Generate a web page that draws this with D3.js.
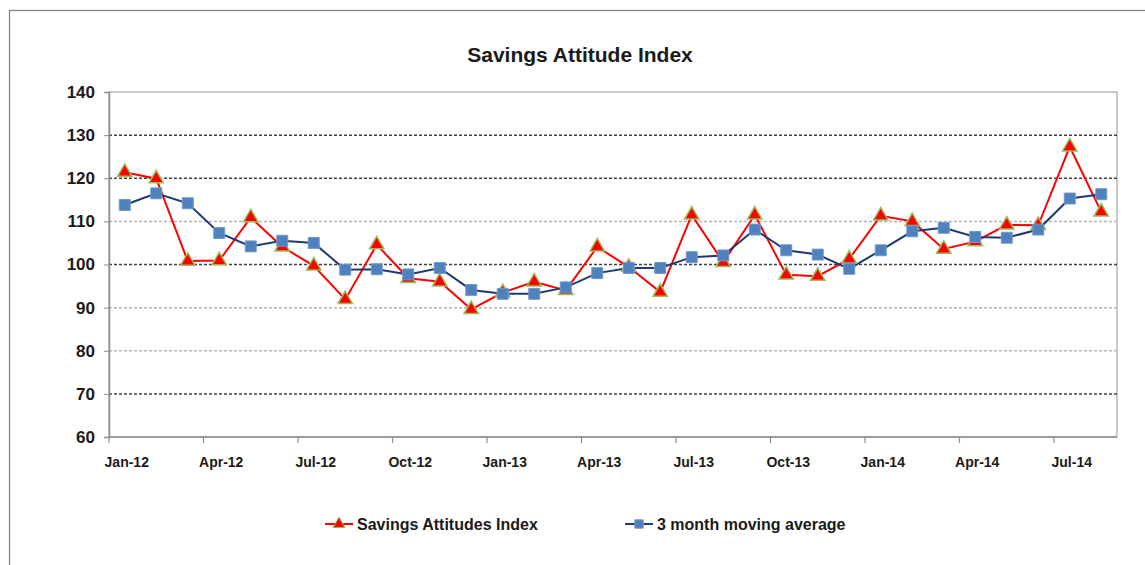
<!DOCTYPE html>
<html>
<head>
<meta charset="utf-8">
<script src="https://cdn.jsdelivr.net/npm/d3@7/dist/d3.min.js"></script>
<style>
  body { margin: 0; background: #fff; }
  svg { display: block; font-family: "Liberation Sans Narrow", "Liberation Sans", Arial, sans-serif; font-weight: bold; }
</style>
</head>
<body>
<svg id="chart" width="1145" height="565"></svg>
<script>
const months = [
  "Jan-12", "Feb-12", "Mar-12", "Apr-12", "May-12", "Jun-12", "Jul-12", "Aug-12", "Sep-12", "Oct-12", "Nov-12", "Dec-12",
  "Jan-13", "Feb-13", "Mar-13", "Apr-13", "May-13", "Jun-13", "Jul-13", "Aug-13", "Sep-13", "Oct-13", "Nov-13", "Dec-13",
  "Jan-14", "Feb-14", "Mar-14", "Apr-14", "May-14", "Jun-14", "Jul-14", "Aug-14"
];

const indexValues = [
  121.4, 119.9, 100.8, 100.9, 110.9, 104.1, 99.7, 91.9, 104.6, 96.8, 96.0,
  89.6, 93.5, 96.0, 94.0, 104.1, 99.4, 93.6, 111.5, 100.5,
  111.5, 97.6, 97.3, 101.3, 111.3, 110.0, 103.6, 105.3, 109.2, 109.1, 127.3, 112.2
];

const movingAvg = [
  113.8, 116.5, 114.2, 107.3, 104.2, 105.5, 105.0, 98.8, 98.9, 97.7, 99.2,
  94.1, 93.2, 93.2, 94.7, 98.0, 99.2, 99.2, 101.7, 102.1,
  108.1, 103.3, 102.3, 99.0, 103.3, 107.7, 108.5, 106.4, 106.2, 108.1, 115.3, 116.3
];

const yTicks = [60, 70, 80, 90, 100, 110, 120, 130, 140];
const darkGrid = [70, 100, 120, 130];
const lightGrid = [80, 90, 110];
const xLabelMonths = ["Jan-12", "Apr-12", "Jul-12", "Oct-12", "Jan-13", "Apr-13", "Jul-13", "Oct-13", "Jan-14", "Apr-14", "Jul-14"];

const seriesNames = ["Savings Attitudes Index", "3 month moving average"];

const svg = d3.select("#chart");
const plotLeft = 109, plotRight = 1117, plotTop = 92, plotBottom = 437;

// outer chart frame
svg.append("rect")
  .attr("x", 9.5).attr("y", 10.5)
  .attr("width", 1150).attr("height", 570)
  .attr("fill", "none").attr("stroke", "#7f7f7f").attr("stroke-width", 1.2);

svg.append("text")
  .attr("x", 580).attr("y", 62)
  .attr("text-anchor", "middle")
  .attr("font-size", 21)
  .attr("fill", "#1a1a1a")
  .text("Savings Attitude Index");

const x = d3.scaleBand().domain(months).range([plotLeft, plotRight]).padding(0);
const cx = d => x(d) + x.bandwidth() / 2;
const y = d3.scaleLinear().domain([60, 140]).range([plotBottom, plotTop]);

// plot area border
svg.append("rect")
  .attr("x", plotLeft).attr("y", plotTop)
  .attr("width", plotRight - plotLeft).attr("height", plotBottom - plotTop)
  .attr("fill", "none").attr("stroke", "#a6a6a6").attr("stroke-width", 1.2);

// gridlines
svg.append("g").selectAll("line")
  .data(lightGrid).join("line")
  .attr("x1", plotLeft).attr("x2", plotRight)
  .attr("y1", d => y(d)).attr("y2", d => y(d))
  .attr("stroke", "#b5b5b5").attr("stroke-width", 1.5)
  .attr("stroke-dasharray", "3,2");

svg.append("g").selectAll("line")
  .data(darkGrid).join("line")
  .attr("x1", plotLeft).attr("x2", plotRight)
  .attr("y1", d => y(d)).attr("y2", d => y(d))
  .attr("stroke", "#404040").attr("stroke-width", 1.5)
  .attr("stroke-dasharray", "3,2");

// y axis
const yAxis = svg.append("g")
  .attr("transform", `translate(${plotLeft},0)`)
  .call(d3.axisLeft(y).tickValues(yTicks).tickSize(5).tickPadding(9));
yAxis.select(".domain").attr("stroke", "#8c8c8c").attr("stroke-width", 1.5);
yAxis.selectAll(".tick line").attr("stroke", "#8c8c8c");
yAxis.selectAll("text").attr("font-size", 17).attr("fill", "#1a1a1a")
  .attr("font-family", "inherit").attr("font-weight", "bold");

// x axis: ticks at band starts, labels at band centres
const xAxis = svg.append("g").attr("transform", `translate(0,${plotBottom})`);
xAxis.append("line")
  .attr("x1", plotLeft).attr("x2", plotRight)
  .attr("stroke", "#8c8c8c").attr("stroke-width", 1.5);
xAxis.selectAll(".xtick")
  .data(xLabelMonths).join("line")
  .attr("class", "xtick")
  .attr("x1", d => x(d)).attr("x2", d => x(d))
  .attr("y1", 0).attr("y2", 6)
  .attr("stroke", "#8c8c8c").attr("stroke-width", 1.2);
xAxis.selectAll(".xlabel")
  .data(xLabelMonths).join("text")
  .attr("class", "xlabel")
  .attr("x", d => cx(d) + 2).attr("y", 30)
  .attr("text-anchor", "middle")
  .attr("font-size", 14).attr("fill", "#1a1a1a")
  .text(d => d);

// lines
const line = d3.line().x((d, i) => cx(months[i])).y(d => y(d));

svg.append("path")
  .datum(indexValues)
  .attr("d", line)
  .attr("fill", "none").attr("stroke", "#ff0000").attr("stroke-width", 2);

svg.append("path")
  .datum(movingAvg)
  .attr("d", line)
  .attr("fill", "none").attr("stroke", "#1f3a6e").attr("stroke-width", 2);

const triangle = d3.symbol().type(d3.symbolTriangle).size(90);
const square = d3.symbol().type(d3.symbolSquare).size(120);

svg.append("g").selectAll("path")
  .data(indexValues).join("path")
  .attr("transform", (d, i) => `translate(${cx(months[i])},${y(d)})`)
  .attr("d", triangle)
  .attr("fill", "#ff0000").attr("stroke", "#9bbb59").attr("stroke-width", 1.5);

svg.append("g").selectAll("path")
  .data(movingAvg).join("path")
  .attr("transform", (d, i) => `translate(${cx(months[i])},${y(d)})`)
  .attr("d", square)
  .attr("fill", "#4f81bd").attr("stroke", "#6f98cc").attr("stroke-width", 1);

// legend
const legend = svg.append("g").attr("transform", "translate(0,524)");
const legendItems = [
  { name: seriesNames[0], x: 325, stroke: "#ff0000", sym: d3.symbol().type(d3.symbolTriangle).size(60), fill: "#ff0000", edge: "#9bbb59" },
  { name: seriesNames[1], x: 625, stroke: "#1f3a6e", sym: d3.symbol().type(d3.symbolSquare).size(70), fill: "#4f81bd", edge: "#6f98cc" }
];
const li = legend.selectAll("g").data(legendItems).join("g")
  .attr("transform", d => `translate(${d.x},0)`);
li.append("line").attr("x1", 0).attr("x2", 28)
  .attr("stroke", d => d.stroke).attr("stroke-width", 2);
li.append("path").attr("transform", "translate(14,0)")
  .attr("d", d => d.sym())
  .attr("fill", d => d.fill).attr("stroke", d => d.edge).attr("stroke-width", 1);
li.append("text").attr("x", 32).attr("y", 6)
  .attr("font-size", 16).attr("fill", "#1a1a1a")
  .text(d => d.name);
</script>
</body>
</html>
